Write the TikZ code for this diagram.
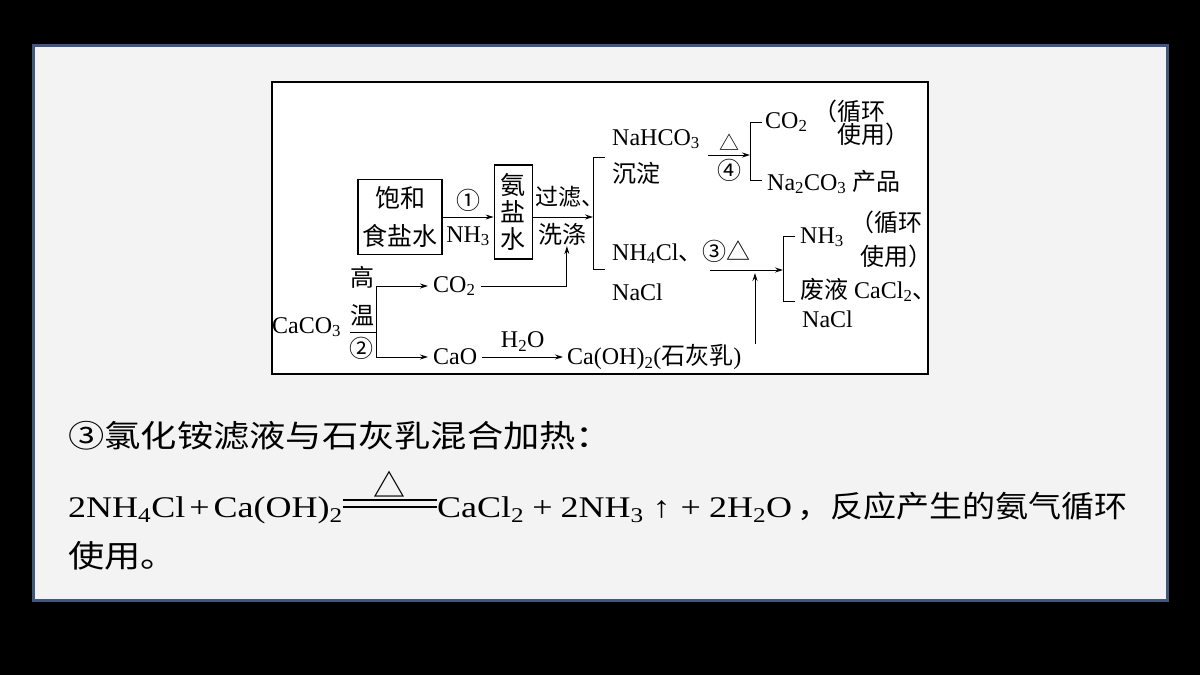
\documentclass[tikz,border=0pt]{standalone}
\usepackage{fontspec}
\setmainfont{Liberation Serif}
\newfontfamily\cjk{Noto Sans CJK SC}
\newfontfamily\bodyzh[FakeStretch=1.17]{Noto Sans CJK SC}
\newfontfamily\eqzh[FakeStretch=1.1]{Noto Sans CJK SC}
\newfontfamily\bodyrm[FakeStretch=1.2]{Liberation Serif}
\usetikzlibrary{arrows.meta,positioning}
\definecolor{slidebg}{HTML}{F3F3F3}
\definecolor{slideline}{HTML}{42577A}
\newcommand{\sbs}[1]{\textsubscript{#1}}

\begin{document}
\begin{tikzpicture}[x=1pt,y=-1pt,
  chart/.style={font=\fontsize{24}{28}\selectfont, inner sep=0pt},
  lbl/.style={chart, anchor=base west},
  box/.style={draw, line width=1.2pt, font=\cjk\fontsize{25}{27}\selectfont, align=center, inner sep=0pt},
  flow/.style={line width=1pt, -{Stealth[length=8pt,width=5pt]}},
  brace/.style={line width=1pt},
  body/.style={anchor=base west, inner sep=0pt, font=\bodyzh\fontsize{31}{31}\selectfont},
  bodyeq/.style={anchor=base west, inner sep=0pt, font=\bodyrm\fontsize{30}{30}\selectfont}]
\useasboundingbox (0,0) rectangle (1200,675);
\fill[black] (0,0) rectangle (1200,675);
\draw[slideline, line width=3pt, fill=slidebg] (33,45) rectangle (1167,600);
\draw[line width=1.2pt, fill=white] (272,82) rectangle (928,374);

% top row
\node[box, minimum width=84pt, minimum height=75pt, font=\cjk\fontsize{25}{38}\selectfont] (brine) at (400,217) {饱和\\食盐水};
\node[box, minimum width=38pt, minimum height=94pt] (ammonia) [right=51pt of brine, yshift=5pt] {氨\\盐\\水};
\coordinate (br1) at (593,217);
\draw[flow] (brine.east) -- node[chart, above=5pt] {\cjk ①} node[chart, below=9pt] {NH\sbs{3}} (brine.east -| ammonia.west);
\draw[flow] (ammonia.east |- brine.east) -- node[chart, below=6pt] (wash) {\cjk 洗涤} (br1);
\node[chart, anchor=base west, font=\cjk\fontsize{23}{23}\selectfont] (filt) at (535,205) {过滤、};
\draw[brace] (605,157) -| (593,269) -- (605,269);

\node[lbl] (nahco3) at (612,145) {NaHCO\sbs{3}};
\node[lbl] (ppt) at (612,182) {\cjk 沉淀};
\coordinate (d4a) at (708,155);
\coordinate (br2) at (750,155);
\draw[flow] (d4a) -- node[chart, above=4pt, font=\cjk\fontsize{20}{20}\selectfont] {△} node[chart, below=4pt] {\cjk ④} (br2);
\draw[brace] (762,122) -| (750,180) -- (762,180);
\node[lbl] (co2a) at (765,128) {CO\sbs{2}};
\node[lbl] (cyc1) at (813,120) {\cjk （循环};
\node[lbl] (use1) at (837,143) {\cjk 使用）};
\node[lbl] (soda) at (767,190) {Na\sbs{2}CO\sbs{3} {\cjk 产品}};

% lower branch
\node[lbl] (nh4cl) at (612,260) {NH\sbs{4}Cl{\cjk 、③△}};
\node[lbl] (nacl1) at (612,300) {NaCl};
\coordinate (d3a) at (710,270);
\coordinate (d3m) at (755,270);
\coordinate (br3) at (783,270);
\draw[flow] (d3a) -- (br3);
\draw[brace] (795,236) -| (783,301) -- (795,301);
\node[lbl] (nh3) at (800,243) {NH\sbs{3}};
\node[lbl] (cyc2) at (850,231) {\cjk （循环};
\node[lbl] (use2) at (860,265) {\cjk 使用）};
\node[lbl] (waste) at (800,298) {{\cjk 废液} CaCl\sbs{2}{\cjk 、}};
\node[lbl] (nacl2) at (802,327) {NaCl};

% limestone
\node[lbl] (caco3) at (272,333) {CaCO\sbs{3}};
\node[chart] (gao) at (362,277) {\cjk 高};
\node[chart] (wen) at (362,315) {\cjk 温};
\node[chart] (two) at (361,348) {\cjk ②};
\coordinate (split) at (376,332);
\draw[brace] (350,332) -- (split);
\node[chart, anchor=west, inner xsep=5pt] (co2b) at (428,286) {CO\sbs{2}};
\node[chart, anchor=west, inner xsep=5pt] (cao) at (428,357) {CaO};
\node[chart, anchor=west, inner xsep=4pt] (lime) at (563,357) {Ca(OH)\sbs{2}({\cjk 石灰乳})};
\draw[flow] (split) |- (co2b.west);
\draw[flow] (split) |- (cao.west);
\draw[flow] (co2b.east) -| ([xshift=4pt]wash.south);
\draw[flow] (cao.east) -- node[chart, above=5pt] {H\sbs{2}O} (cao.east -| lime.west);
\draw[flow] (lime.north -| d3m) -- ([yshift=-3pt]d3m);

% text below
\node[body] (step3) at (68,447) {③氯化铵滤液与石灰乳混合加热：};
\node[bodyeq] (eqL) at (68,517) {2NH\sbs{4}Cl\kern4pt+\kern4pt Ca(OH)\sbs{2}};
\node[bodyeq] (eqR) at (437,517) {CaCl\sbs{2}\kern8pt+\kern8pt 2NH\sbs{3}\kern9pt↑\kern10pt+\kern8pt 2H\sbs{2}O\kern5pt{\eqzh ，反应产生的氨气循环}};
\draw[line width=1.2pt] (eqL.east |- 0,500) -- (eqR.west |- 0,500);
\draw[line width=1.2pt] (eqL.east |- 0,507) -- (eqR.west |- 0,507);
\path (eqL.east |- 0,500) -- node[above=2pt, inner sep=0pt, font=\cjk\fontsize{32}{32}\selectfont] (heat) {△} (eqR.west |- 0,500);
\node[body] (use3) at (68,567) {使用。};
\end{tikzpicture}
\end{document}
